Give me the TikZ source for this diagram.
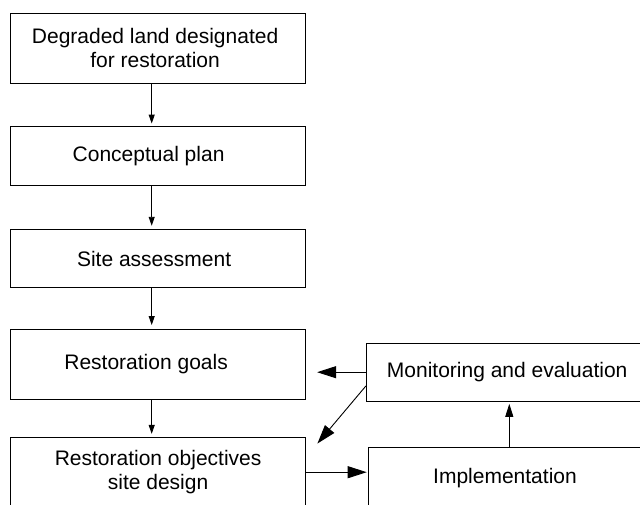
\documentclass[tikz,border=0pt]{standalone}
\usepackage{fontspec}
\setmainfont{Liberation Sans}
\usetikzlibrary{arrows.meta,calc}
\begin{document}
\begin{tikzpicture}[x=1pt,y=-1pt,
  box/.style={draw=black, line width=1pt, rectangle, inner sep=0pt, align=center,
    font=\fontsize{21}{23.6}\selectfont},
  lbox/.style={box, minimum width=295pt},
  conn/.style={draw=black, line width=0.9pt},
  smallhead/.style={-{Triangle[length=9pt,width=6pt]}},
  bighead/.style={-{Triangle[length=19pt,width=12pt]}},
  midhead/.style={-{Triangle[length=13pt,width=8pt]}}
]
\useasboundingbox (0,0) rectangle (640,504);
\begin{scope}
\clip (0,0) rectangle (640,504);
\node[lbox, minimum height=70pt] (deg) at (158.1,48) {\hspace*{-6pt}Degraded land designated\\\hspace*{-6pt}for restoration};
\node[lbox, minimum height=58.3pt] (con) at (158.1,155.9) {\hspace*{-19pt}Conceptual plan};
\node[lbox, minimum height=58.4pt] (site) at (158.1,258.5) {\hspace*{-8pt}Site assessment};
\node[lbox, minimum height=70.3pt] (goal) at (158.1,364.2) {\hspace*{-24pt}Restoration goals};
\node[lbox, minimum height=69.7pt] (obj) at (158.1,472.2) {Restoration objectives\\site design};
\node[box, minimum width=281.7pt, minimum height=57.7pt] (mon) at (507.2,372.2) {Monitoring and evaluation};
\node[box, minimum width=272.6pt, minimum height=60.3pt] (impl) at (505,477.9) {Implementation};
\end{scope}
\coordinate (col) at (151.7,0);
\coordinate (upx) at (509.3,0);
\draw[conn, smallhead, shorten >=2.7pt] (deg.south -| col) -- (con.north -| col);
\draw[conn, smallhead, shorten >=3pt] (con.south -| col) -- (site.north -| col);
\draw[conn, smallhead, shorten >=3.5pt] (site.south -| col) -- (goal.north -| col);
\draw[conn, smallhead, shorten >=3pt] (goal.south -| col) -- (obj.north -| col);
\draw[conn, bighead, shorten >=11pt] (mon.west) -- (mon.west -| goal.east);
\coordinate (dstart) at ($(mon.west)+(0,13.8)$);
\coordinate (dend) at ($(obj.north east)+(11.3,6.7)$);
\draw[conn, bighead] (dstart) -- (dend);
\draw[conn, bighead, shorten >=1.5pt] (obj.east) -- (obj.east -| impl.west);
\draw[conn, midhead, shorten >=2.3pt] (impl.north -| upx) -- (mon.south -| upx);
\end{tikzpicture}
\end{document}
